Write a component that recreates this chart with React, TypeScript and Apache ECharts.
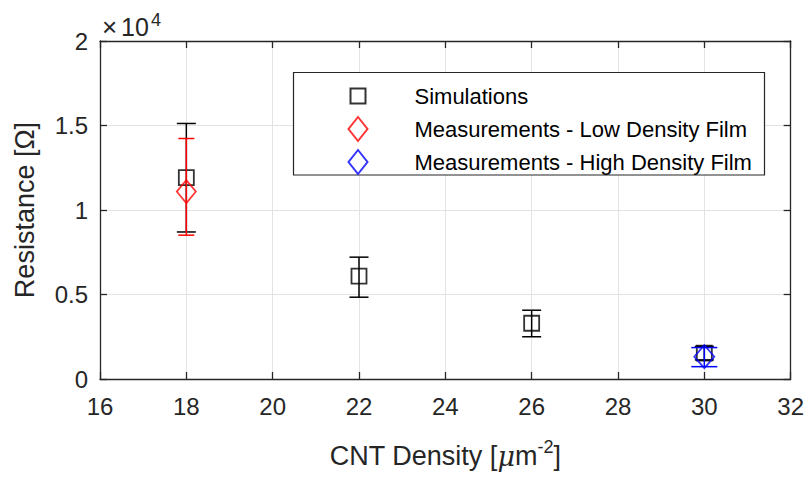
import React, { useEffect, useRef } from "react";
import * as echarts from "echarts";

// ---- data ----
const xTicks = [16, 18, 20, 22, 24, 26, 28, 30, 32];
const yTickValues = [0, 5000, 10000, 15000, 20000];
const yTickLabels = ["0", "0.5", "1", "1.5", "2"];

const simX = [18, 22, 26, 30];
const simY = [11920, 6090, 3300, 1530];
const simLow = [8700, 4840, 2500, 1130];
const simHigh = [15120, 7210, 4070, 1930];

const lowX = [18];
const lowY = [11090];
const lowLow = [8510];
const lowHigh = [14230];

const highX = [30];
const highY = [1320];
const highLow = [730];
const highHigh = [1860];

const seriesNames = [
  "Simulations",
  "Measurements - Low Density Film",
  "Measurements - High Density Film",
];

const FONT = "Liberation Sans, Arial, Helvetica, sans-serif";
const AX = "#262626";

function errSeries(name: string, xs: number[], lo: number[], hi: number[], color: string, capHalf: number, z: number) {
  return {
    type: "custom",
    name,
    z,
    silent: true,
    data: xs.map((x, i) => [x, lo[i], hi[i]]),
    encode: { x: 0, y: [1, 2] },
    renderItem: (params: any, api: any) => {
      const x = api.value(0);
      const pLo = api.coord([x, api.value(1)]);
      const pHi = api.coord([x, api.value(2)]);
      const style = { stroke: color, lineWidth: 1.5, fill: "none" };
      return {
        type: "group",
        children: [
          { type: "line", shape: { x1: pLo[0], y1: pLo[1], x2: pHi[0], y2: pHi[1] }, style },
          { type: "line", shape: { x1: pLo[0] - capHalf, y1: pLo[1], x2: pLo[0] + capHalf, y2: pLo[1] }, style },
          { type: "line", shape: { x1: pHi[0] - capHalf, y1: pHi[1], x2: pHi[0] + capHalf, y2: pHi[1] }, style },
        ],
      };
    },
  };
}

function markerSeries(name: string, xs: number[], ys: number[], color: string, symbol: string, size: any, z: number) {
  return {
    type: "scatter",
    name,
    z,
    symbol,
    symbolSize: size,
    data: xs.map((x, i) => [x, ys[i]]),
    itemStyle: { color: "rgba(0,0,0,0)", borderColor: color, borderWidth: 1.8 },
    emphasis: { disabled: true },
  };
}

export default function App() {
  const ref = useRef<HTMLDivElement>(null);
  useEffect(() => {
    if (!ref.current) return;
    const chart = echarts.init(ref.current, null, { renderer: "svg" });
    const yLabel = (v: number) => {
      const i = yTickValues.indexOf(v);
      return i >= 0 ? yTickLabels[i] : "";
    };
    chart.setOption({
      animation: false,
      backgroundColor: "#ffffff",
      textStyle: { fontFamily: FONT },
      grid: { left: 100, right: 16, top: 41, bottom: 95, containLabel: false },
      xAxis: [
        {
          type: "value",
          position: "bottom",
          min: xTicks[0],
          max: xTicks[xTicks.length - 1],
          interval: 2,
          axisLine: { show: true, onZero: false, lineStyle: { color: AX, width: 1.3 } },
          axisTick: { show: true, inside: true, length: 7, lineStyle: { color: AX, width: 1.3 } },
          axisLabel: { fontSize: 24, color: AX, margin: 15, fontFamily: FONT },
          splitLine: { show: true, lineStyle: { color: "#e3e3e3", width: 1 } },
          name: "CNT Density [{mu|μ}m{sup|-2}]",
          nameLocation: "middle",
          nameGap: 59,
          nameTextStyle: {
            fontSize: 27,
            color: AX,
            fontFamily: FONT,
            lineHeight: 36,
            rich: {
              mu: { fontSize: 27, fontStyle: "italic", fontFamily: "DejaVu Serif, serif", color: AX, lineHeight: 36 },
              sup: { fontSize: 18, color: AX, lineHeight: 18, verticalAlign: "top", fontFamily: FONT },
            },
          },
        },
        {
          type: "value",
          position: "top",
          min: xTicks[0],
          max: xTicks[xTicks.length - 1],
          interval: 2,
          axisLine: { show: true, onZero: false, lineStyle: { color: AX, width: 1.3 } },
          axisTick: { show: true, inside: true, length: 7, lineStyle: { color: AX, width: 1.3 } },
          axisLabel: { show: false },
          splitLine: { show: false },
        },
      ],
      yAxis: [
        {
          type: "value",
          position: "left",
          min: 0,
          max: 20000,
          interval: 5000,
          axisLine: { show: true, onZero: false, lineStyle: { color: AX, width: 1.3 } },
          axisTick: { show: true, inside: true, length: 7, lineStyle: { color: AX, width: 1.3 } },
          axisLabel: { fontSize: 24, color: AX, margin: 12, fontFamily: FONT, formatter: yLabel },
          splitLine: { show: true, lineStyle: { color: "#e3e3e3", width: 1 } },
          name: "Resistance [Ω]",
          nameLocation: "middle",
          nameGap: 62,
          nameTextStyle: { fontSize: 27, color: AX, fontFamily: FONT },
        },
        {
          type: "value",
          position: "right",
          min: 0,
          max: 20000,
          interval: 5000,
          axisLine: { show: true, onZero: false, lineStyle: { color: AX, width: 1.3 } },
          axisTick: { show: true, inside: true, length: 7, lineStyle: { color: AX, width: 1.3 } },
          axisLabel: { show: false },
          splitLine: { show: false },
        },
      ],
      legend: {
        orient: "vertical",
        left: 347.5,
        top: 83,
        padding: 0,
        itemWidth: 19,
        itemHeight: 24,
        itemGap: 7,
        selectedMode: false,
        z: 6,
        textStyle: { fontSize: 22, color: "#000", fontFamily: FONT, padding: [0, 0, 0, 42] },
        data: [
          { name: seriesNames[0], icon: "path://M0,0M19,24M2,4.5L17,4.5L17,19.5L2,19.5Z" },
          { name: seriesNames[1], icon: "diamond" },
          { name: seriesNames[2], icon: "diamond" },
        ],
      },
      graphic: [
        {
          type: "rect",
          z: 5,
          shape: { x: 293.5, y: 72.5, width: 471, height: 102.5 },
          style: { fill: "#ffffff", stroke: AX, lineWidth: 1.2 },
        },
        {
          type: "text",
          x: 102,
          y: 27,
          style: { text: "×", fontSize: 26, fontFamily: FONT, fill: AX, textVerticalAlign: "middle" },
        },
        {
          type: "text",
          x: 121,
          y: 27,
          style: { text: "10", fontSize: 25, fontFamily: FONT, fill: AX, textVerticalAlign: "middle" },
        },
        {
          type: "text",
          x: 151,
          y: 20,
          style: { text: "4", fontSize: 18, fontFamily: FONT, fill: AX, textVerticalAlign: "middle" },
        },
      ],
      series: [
        errSeries("errSim", simX, simLow, simHigh, "#000000", 9.5, 3),
        markerSeries(seriesNames[0], simX, simY, "#000000", "rect", 15, 3),
        errSeries("errLow", lowX, lowLow, lowHigh, "#ff0000", 8, 4),
        markerSeries(seriesNames[1], lowX, lowY, "#ff0000", "diamond", [19, 23], 4),
        errSeries("errHigh", highX, highLow, highHigh, "#0000ff", 13, 4),
        markerSeries(seriesNames[2], highX, highY, "#0000ff", "diamond", [20, 23], 4),
      ],
    });
    return () => chart.dispose();
  }, []);
  return <div ref={ref} style={{ position: "absolute", left: 0, top: 0, width: 807, height: 479 }} />;
}
